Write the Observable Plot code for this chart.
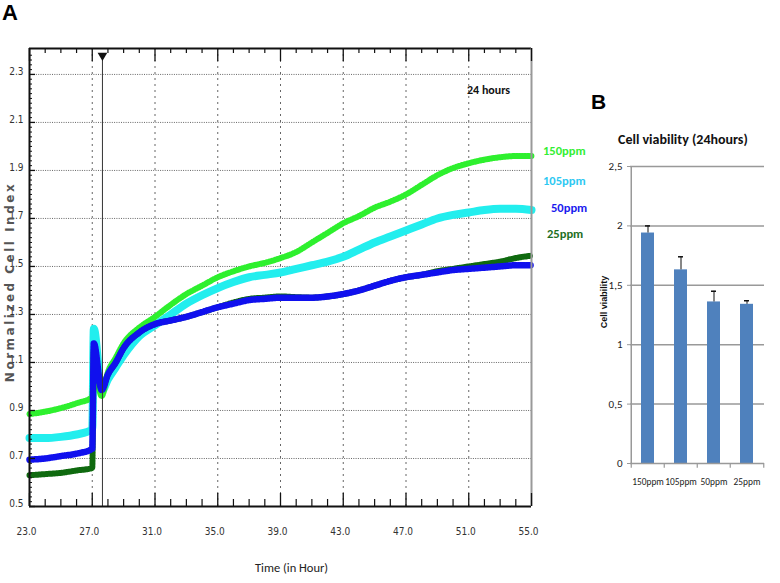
<!DOCTYPE html>
<html>
<head>
<meta charset="utf-8">
<script src="https://cdn.jsdelivr.net/npm/d3@7"></script>
<script src="https://cdn.jsdelivr.net/npm/@observablehq/plot@0.6"></script>
<style>
  html, body { margin: 0; padding: 0; background: #fff; }
  #wrap { position: relative; width: 780px; height: 583px; overflow: hidden; font-family: "Liberation Sans", Arial, sans-serif; }
  .abs { position: absolute; white-space: nowrap; }
  .narrow { font-family: "Carlito", "Liberation Sans Narrow", "DejaVu Sans Condensed", sans-serif; }
</style>
</head>
<body>
<div id="wrap"></div>
<script>
// ---------- Panel A data (Normalized Cell Index vs time) ----------
const timeHour = [23, 24, 25, 26, 27, 27.1, 27.6, 28, 28.5, 29, 30, 31, 32, 33, 34, 35, 36, 37, 38, 39, 40, 41, 42, 43, 44, 45, 46, 47, 48, 49, 50, 51, 52, 53, 54, 55];
const ppm150 = [0.885, 0.895, 0.91, 0.93, 0.955, 1.08, 0.96, 1.06, 1.12, 1.18, 1.245, 1.29, 1.34, 1.385, 1.42, 1.455, 1.48, 1.50, 1.515, 1.535, 1.56, 1.60, 1.64, 1.68, 1.71, 1.745, 1.77, 1.80, 1.84, 1.88, 1.91, 1.93, 1.945, 1.955, 1.96, 1.96];
const ppm105 = [0.785, 0.785, 0.79, 0.80, 0.82, 1.24, 0.98, 1.03, 1.08, 1.13, 1.21, 1.255, 1.30, 1.345, 1.38, 1.41, 1.435, 1.455, 1.465, 1.475, 1.49, 1.505, 1.52, 1.54, 1.57, 1.60, 1.625, 1.65, 1.675, 1.70, 1.715, 1.725, 1.735, 1.74, 1.74, 1.735];
const ppm50  = [0.695, 0.70, 0.71, 0.72, 0.74, 1.18, 0.985, 1.05, 1.10, 1.16, 1.225, 1.26, 1.275, 1.29, 1.31, 1.33, 1.345, 1.36, 1.365, 1.37, 1.37, 1.37, 1.375, 1.385, 1.40, 1.42, 1.44, 1.455, 1.465, 1.475, 1.485, 1.49, 1.495, 1.50, 1.505, 1.505];
const ppm25  = [0.63, 0.635, 0.64, 0.65, 0.66, 1.15, 0.99, 1.05, 1.10, 1.16, 1.225, 1.26, 1.275, 1.29, 1.31, 1.33, 1.35, 1.365, 1.37, 1.375, 1.372, 1.37, 1.375, 1.385, 1.40, 1.42, 1.44, 1.455, 1.465, 1.48, 1.49, 1.50, 1.51, 1.52, 1.535, 1.545];
const seriesNames = ["150ppm", "105ppm", "50ppm", "25ppm"];
const seriesColors = ["#2ef02e", "#22eeee", "#1010ee", "#0f6a0f"];
const xTicksMajor = [23, 27, 31, 35, 39, 43, 47, 51, 55];
const yTicksMajor = [0.5, 0.7, 0.9, 1.1, 1.3, 1.5, 1.7, 1.9, 2.1, 2.3];
const markerTime = 27.65;

// ---------- Panel B data (Cell viability, 24 hours) ----------
const doseCats = ["150ppm", "105ppm", "50ppm", "25ppm"];
const viability = [1.94, 1.63, 1.36, 1.34];
const viabilityErr = [0.06, 0.11, 0.09, 0.03];
const yTicksB = [0, 0.5, 1, 1.5, 2, 2.5];

// ---------- build tables ----------
const allSeries = [ppm150, ppm105, ppm50, ppm25];
const rows = allSeries.flatMap((vals, i) => vals.map((v, j) => ({t: timeHour[j], v, s: seriesNames[i]})));
const bySeries = name => rows.filter(r => r.s === name);
const xMinor = d3.range(23, 56, 1).filter(v => !xTicksMajor.includes(v));
const yMinor = d3.range(0, 95).map(i => +(0.5 + i * 0.02).toFixed(2)).filter(v => v <= 2.4 && !yTicksMajor.some(m => Math.abs(m - v) < 1e-6));
const barRows = doseCats.map((c, i) => ({c, v: viability[i], e: viabilityErr[i], top: viability[i] + viabilityErr[i]}));

const wrap = document.getElementById("wrap");
const yTop = 2.408;

function lineMarks(name, color, core, halo) {
  const d = bySeries(name);
  const m = [Plot.line(d, {x: "t", y: "v", stroke: color, strokeWidth: core, curve: "monotone-x"})];
  if (halo) m.push(Plot.line(d, {x: "t", y: "v", stroke: color, strokeWidth: halo, strokeDasharray: "1.2,1.6", curve: "monotone-x"}));
  return m;
}

const chartA = Plot.plot({
  width: 545, height: 583,
  marginLeft: 29, marginRight: 14, marginTop: 48, marginBottom: 77,
  style: {fontFamily: "'Liberation Sans Narrow', 'DejaVu Sans Condensed', sans-serif", fontSize: "10px", color: "#333", background: "transparent"},
  x: {domain: [23, 55]},
  y: {domain: [0.5, yTop]},
  marks: [
    Plot.gridY(yTicksMajor.filter(v => v > 0.5), {stroke: "#666", strokeOpacity: 1, strokeDasharray: "1,1.3", strokeWidth: 1}),
    Plot.gridX(xTicksMajor.filter(v => v > 23 && v < 55), {stroke: "#666", strokeOpacity: 1, strokeDasharray: "2,4", strokeWidth: 1}),
    ...lineMarks("105ppm", seriesColors[1], 8, 0),
    ...lineMarks("150ppm", seriesColors[0], 2.5, 6),
    ...lineMarks("25ppm", seriesColors[3], 2.2, 6),
    ...lineMarks("50ppm", seriesColors[2], 3.5, 6.5),
    Plot.ruleX([markerTime], {y1: 2.36, y2: 0.5, stroke: "#333", strokeWidth: 1}),
    Plot.dot([markerTime], {x: d => d, frameAnchor: "top", dy: 7, symbol: "triangle", rotate: 180, r: 3.6, fill: "#111", stroke: "none"}),
    // frame
    Plot.ruleY([yTop], {stroke: "#111", strokeWidth: 2}),
    Plot.ruleY([0.5], {stroke: "#111", strokeWidth: 2}),
    Plot.ruleX([23], {stroke: "#111", strokeWidth: 2}),
    Plot.ruleX([55], {stroke: "#999", strokeWidth: 2}),
    // inward ticks
    Plot.tickX(xTicksMajor, {x: d => d, insetTop: 445, stroke: "#111", strokeWidth: 1.3}),
    Plot.tickX(xMinor, {x: d => d, insetTop: 451, stroke: "#111", strokeWidth: 1.2}),
    Plot.tickX(xTicksMajor, {x: d => d, insetBottom: 445, stroke: "#111", strokeWidth: 1.3}),
    Plot.tickX(xMinor, {x: d => d, insetBottom: 453, stroke: "#111", strokeWidth: 1.2}),
    Plot.tickY(yTicksMajor, {y: d => d, insetRight: 496, stroke: "#111", strokeWidth: 1.3}),
    Plot.tickY(yMinor, {y: d => d, insetRight: 499, stroke: "#111", strokeWidth: 1}),
    Plot.axisX({ticks: xTicksMajor, tickFormat: d => d.toFixed(1), tickSize: 0, tickPadding: 21, dx: -3, label: null}),
    Plot.axisY({ticks: yTicksMajor, tickFormat: d => d.toFixed(1), tickSize: 0, tickPadding: 6, dy: -3, label: null})
  ]
});
chartA.style.position = "absolute";
chartA.style.left = "0px";
chartA.style.top = "0px";
wrap.appendChild(chartA);

const chartB = Plot.plot({
  width: 200, height: 400,
  marginLeft: 50, marginRight: 16, marginTop: 46, marginBottom: 57,
  style: {fontFamily: "'Carlito', 'Liberation Sans Narrow', 'DejaVu Sans Condensed', sans-serif", fontSize: "11px", color: "#222", background: "transparent"},
  x: {domain: doseCats, paddingInner: 0.6, paddingOuter: 0.3},
  y: {domain: [0, 2.5]},
  marks: [
    Plot.gridY(yTicksB.filter(v => v > 0), {stroke: "#999", strokeOpacity: 1, strokeWidth: 1.5}),
    Plot.barY(barRows, {x: "c", y: "v", fill: "#4f81bd"}),
    Plot.ruleX(barRows, {x: "c", y1: "v", y2: "top", stroke: "#111", strokeWidth: 1}),
    Plot.tickY(barRows, {x: "c", y: "top", insetLeft: 4, insetRight: 4, stroke: "#111", strokeWidth: 1.5}),
    Plot.ruleX([doseCats[0]], {dx: -16.75, stroke: "#999", strokeWidth: 1.5}),
    Plot.ruleY([0], {stroke: "#999", strokeWidth: 1.5}),
    Plot.ruleX(doseCats, {x: d => d, dx: -16.75, y1: 0, y2: -0.04, stroke: "#999", strokeWidth: 1.2}),
    Plot.ruleX([doseCats[3]], {x: d => d, dx: 16.75, y1: 0, y2: -0.04, stroke: "#999", strokeWidth: 1.2}),
    Plot.axisX({tickSize: 0, tickPadding: 15, fontSize: 9.4, label: null}),
    Plot.axisY({ticks: yTicksB, tickFormat: d => String(d).replace(".", ","), tickSize: 3, tickPadding: 5, stroke: "#999", label: null})
  ]
});
chartB.style.position = "absolute";
chartB.style.left = "580px";
chartB.style.top = "120px";
wrap.appendChild(chartB);

// ---------- text ----------
function addText(txt, css, cls) {
  const d = document.createElement("div");
  d.className = "abs " + (cls || "");
  d.textContent = txt;
  Object.assign(d.style, css);
  wrap.appendChild(d);
  return d;
}
addText("A", {left: "2px", top: "0px", fontSize: "22px", fontWeight: "bold", color: "#000"});
addText("B", {left: "591px", top: "90px", fontSize: "21px", fontWeight: "bold", color: "#000"});
addText("24 hours", {left: "467px", top: "83px", fontSize: "12px", fontWeight: "bold", color: "#111"}, "narrow");
const legendPos = [[543, 143], [543, 173], [551, 200], [547, 226]];
const legendCols = ["#33ee33", "#2ec8f2", "#1a1aee", "#1e6e1e"];
seriesNames.forEach((n, i) => addText(n, {left: legendPos[i][0] + "px", top: legendPos[i][1] + "px", fontSize: "12.5px", fontWeight: "bold", color: legendCols[i]}, "narrow"));
addText("Time (in Hour)", {left: "255px", top: "560px", fontSize: "12.5px", color: "#222"}, "narrow");
const yt = addText("Normalized Cell Index", {left: "10px", top: "282px", fontSize: "12px", fontWeight: "bold", color: "#555", letterSpacing: "2.5px", fontFamily: "'DejaVu Sans', sans-serif"});
yt.style.transform = "translate(-50%, -50%) rotate(-90deg)";
addText("Cell viability (24hours)", {left: "618px", top: "131px", fontSize: "14px", fontWeight: "bold", color: "#111"}, "narrow");
const yb = addText("Cell viability", {left: "604px", top: "302px", fontSize: "9px", fontWeight: "bold", color: "#111"});
yb.style.transform = "translate(-50%, -50%) rotate(-90deg)";
</script>
</body>
</html>
